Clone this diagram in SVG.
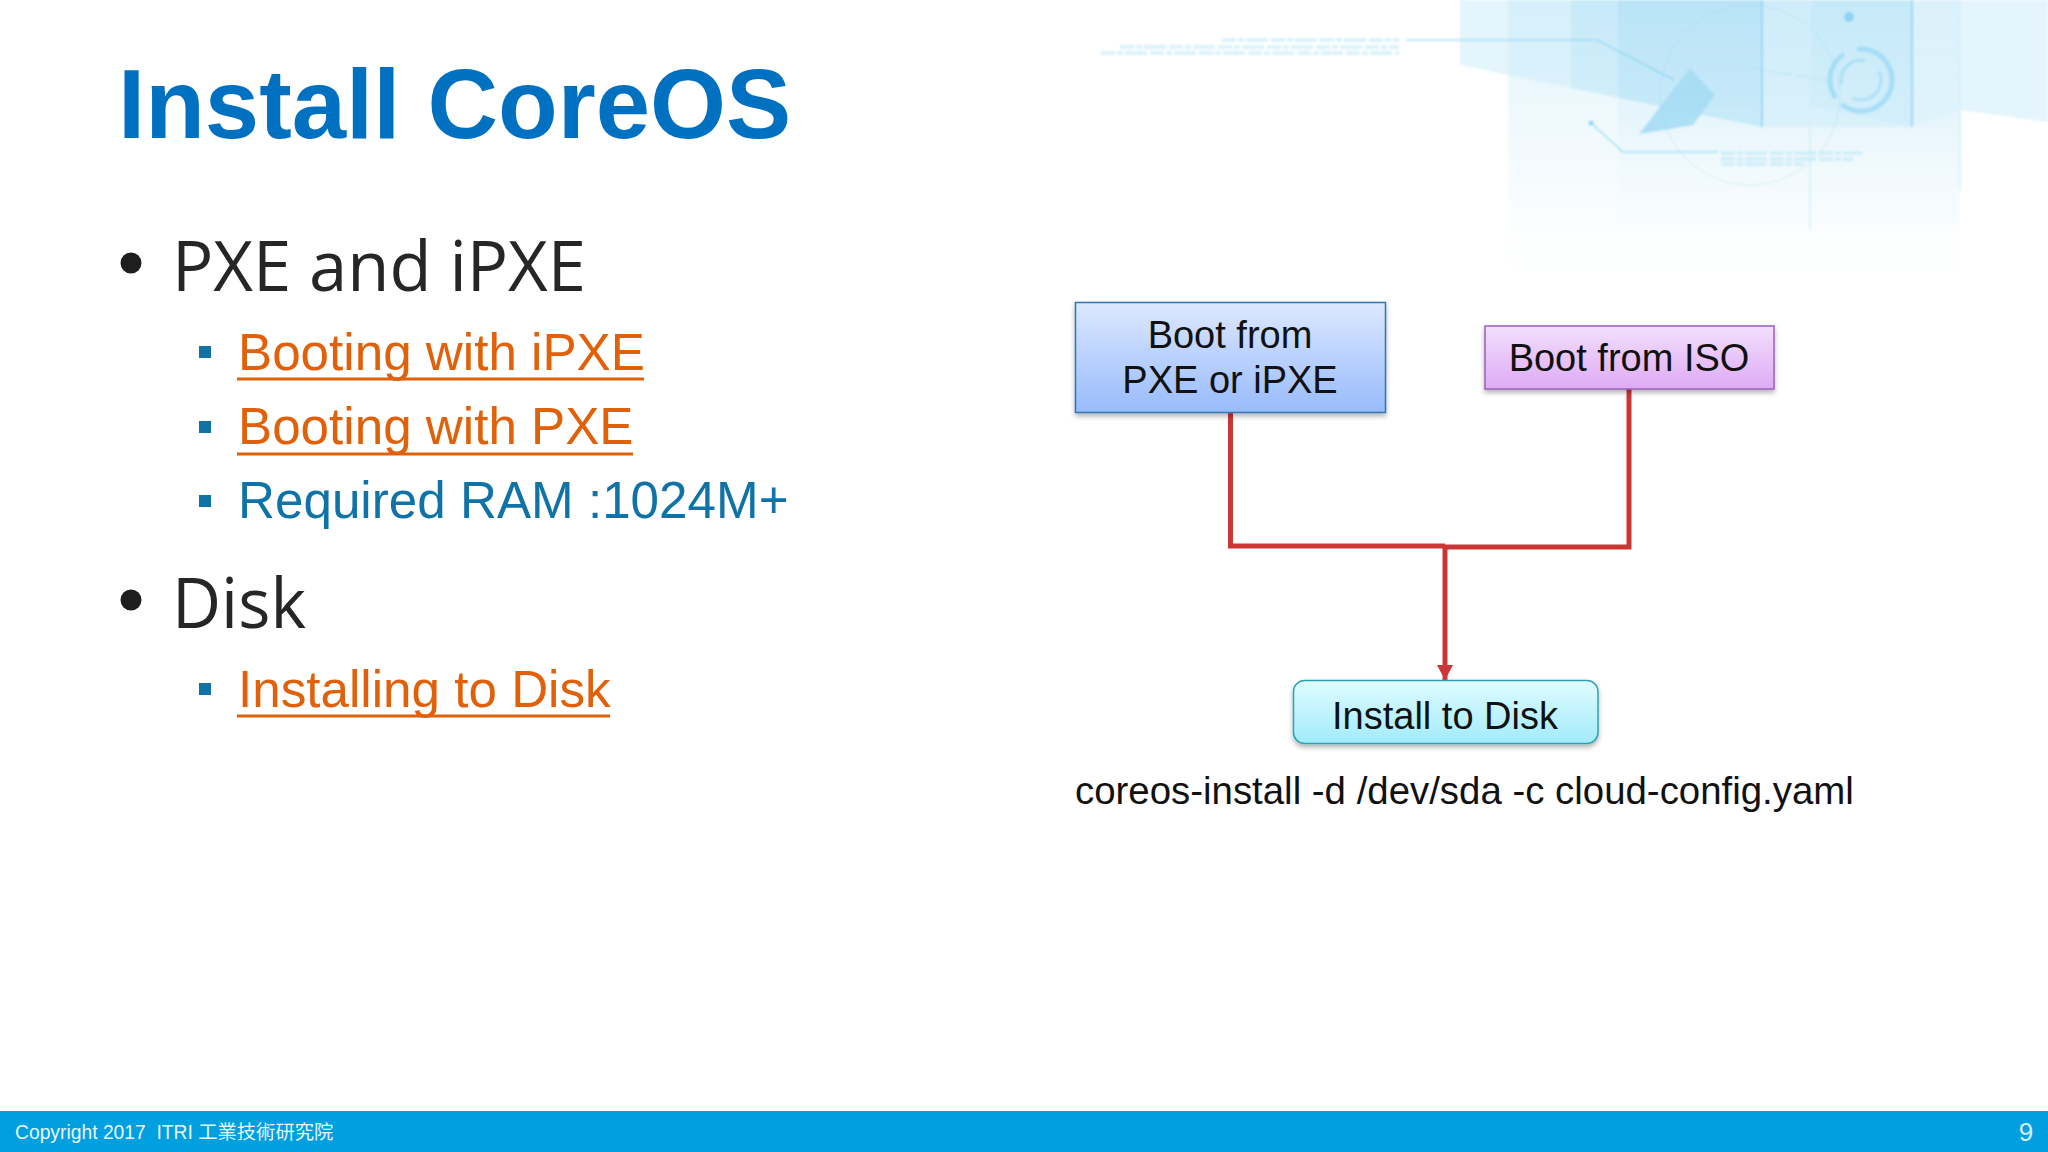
<svg xmlns="http://www.w3.org/2000/svg" width="2048" height="1152" viewBox="0 0 2048 1152">
<style>
.a{font-family:"Liberation Sans",Arial,sans-serif}
.h{font-family:"Open Sans","Noto Sans",sans-serif;font-size:70px;fill:#262626}
.s{font-family:"Liberation Sans",Arial,sans-serif;font-size:51.2px}
.o{fill:#E0610A}.b{fill:#0F73A8}
.n{font-family:"Liberation Sans",Arial,sans-serif;font-size:38px;fill:#111;text-anchor:middle}
.c{fill:none;stroke:#CB3636;stroke-width:5}
.f{fill:none;stroke:#8FD6F2}
.t{stroke:#AFE2F5;stroke-width:4;opacity:.45;stroke-dasharray:14 2 6 2 22 3}
</style>
<defs>
<linearGradient id="g1" x1="0" y1="0" x2="0" y2="1"><stop offset="0" stop-color="#DCE8FF"/><stop offset="1" stop-color="#98BBFB"/></linearGradient>
<linearGradient id="g2" x1="0" y1="0" x2="0" y2="1"><stop offset="0" stop-color="#F2DFFC"/><stop offset="1" stop-color="#DEAAF5"/></linearGradient>
<linearGradient id="g3" x1="0" y1="0" x2="0" y2="1"><stop offset="0" stop-color="#DFFCFF"/><stop offset="1" stop-color="#A2EBFB"/></linearGradient>
<linearGradient id="p" x1="0" y1="0" x2="0" y2="1"><stop offset="0" stop-color="#BFE6F8" stop-opacity=".5"/><stop offset=".45" stop-color="#D5EFFA" stop-opacity=".35"/><stop offset="1" stop-color="#E8F6FC" stop-opacity="0"/></linearGradient>
<linearGradient id="q" x1="0" y1="0" x2="0" y2="1"><stop offset="0" stop-color="#A8DDF5" stop-opacity=".6"/><stop offset="1" stop-color="#A8DDF5" stop-opacity=".35"/></linearGradient>
<filter id="sh" x="-5%" y="-10%" width="110%" height="130%"><feDropShadow dx="0" dy="3" stdDeviation="2.5" flood-color="#000" flood-opacity=".3"/></filter>
<filter id="bl"><feGaussianBlur stdDeviation=".8"/></filter>
<marker id="ah" markerUnits="userSpaceOnUse" markerWidth="15" markerHeight="16" refX="15" refY="8" orient="auto"><path d="M0 0L15 8L0 16Z" fill="#CB3636"/></marker>
</defs>
<rect width="2048" height="1152" fill="#fff"/>
<g id="background" filter="url(#bl)">
<rect x="1508" y="0" width="452" height="290" fill="url(#p)"/>
<rect x="1618" y="0" width="192" height="240" fill="url(#p)"/>
<rect x="1810" y="0" width="150" height="240" fill="url(#p)"/>
<polygon points="1460,0 1912,0 1912,127 1762,127 1460,65" fill="#CDEDFA" opacity=".55"/>
<polygon points="1912,0 2048,0 2048,122 1960,110 1912,127" fill="#DDF3FB" opacity=".8"/>
<polygon points="1571,0 1762,0 1762,127 1571,88" fill="url(#q)" opacity=".5"/>
<polygon points="1618,0 1762,0 1762,127 1618,98" fill="url(#q)" opacity=".55"/>
<polygon points="1810,0 1912,0 1912,127 1810,106" fill="url(#q)" opacity=".35"/>
<path d="M1762 0V127M1912 0V127" stroke="#9BD8F3" stroke-width="2" fill="none"/>
<path d="M1960 0V190M1810 0V230" stroke="#D5F0FA" stroke-width="1.5" fill="none"/>
<polygon points="1690,68 1715,95 1693,125 1639,134" fill="#A6DDF4" opacity=".9"/>
<circle cx="1849" cy="17" r="5" fill="#8FD3F0"/>
<circle cx="1750" cy="95" r="90" class="f" opacity=".35"/>
<circle cx="1861" cy="80" r="31" class="f" stroke-width="5" stroke-dasharray="70 8 50 14" opacity=".65"/>
<circle cx="1861" cy="80" r="20" class="f" stroke-width="3" stroke-dasharray="40 18" opacity=".55"/>
<path d="M1406 40H1597L1674 80M1591 123L1623 152H1718" class="f" stroke-width="1.5" opacity=".8"/>
<circle cx="1591" cy="123" r="2.5" fill="#8FD6F2"/>
<path d="M1747 68L1827 80" class="t" style="stroke-width:2"/>
<path d="M1222 40H1399M1120 47H1399M1101 53H1399M1721 153H1862M1721 159H1853M1721 164H1804" class="t"/>
</g>
<g id="title"><text class="a" x="118" y="138" font-size="97.7" font-weight="700" fill="#0070C0">Install CoreOS</text></g>
<g id="bullets">
<circle cx="131" cy="263" r="10.5" fill="#1E1E1E"/>
<text class="h" x="172" y="291" textLength="414" lengthAdjust="spacingAndGlyphs">PXE and iPXE</text>
<rect x="199" y="346" width="12" height="12" fill="#0F73A8"/>
<text class="s o" x="238" y="370">Booting with iPXE</text><rect x="237" y="377.5" width="407" height="3" fill="#E0610A"/>
<rect x="199" y="421" width="12" height="12" fill="#0F73A8"/>
<text class="s o" x="238" y="444">Booting with PXE</text><rect x="237" y="452.5" width="396" height="3" fill="#E0610A"/>
<rect x="199" y="495" width="12" height="12" fill="#0F73A8"/>
<text class="s b" x="238" y="518">Required RAM :1024M+</text>
<circle cx="131" cy="600" r="10.5" fill="#1E1E1E"/>
<text class="h" x="172" y="628" textLength="134" lengthAdjust="spacingAndGlyphs">Disk</text>
<rect x="199" y="683" width="12" height="12" fill="#0F73A8"/>
<text class="s o" x="238" y="707">Installing to Disk</text><rect x="237" y="714.5" width="373" height="3" fill="#E0610A"/>
</g>
<g id="connectors">
<path class="c" d="M1230.5 412V546H1445"/>
<path class="c" d="M1629 388V547H1445"/>
<path class="c" d="M1445 546V680" marker-end="url(#ah)"/>
</g>
<g id="node-pxe"><rect x="1075.5" y="302.5" width="310" height="110" fill="url(#g1)" stroke="#2E75B6" stroke-width="1.5" filter="url(#sh)"/>
<text class="n" x="1230" y="348">Boot from</text><text class="n" x="1230" y="393">PXE or iPXE</text></g>
<g id="node-iso"><rect x="1485" y="326" width="289" height="63" fill="url(#g2)" stroke="#9B5FB8" stroke-width="1.5" filter="url(#sh)"/>
<text class="n" x="1629" y="371">Boot from ISO</text></g>
<g id="node-disk"><rect x="1293.5" y="680.5" width="304.5" height="63" rx="11" fill="url(#g3)" stroke="#2FA3B0" stroke-width="1.5" filter="url(#sh)"/>
<text class="n" x="1445" y="728.5">Install to Disk</text></g>
<g id="command"><text class="a" x="1075" y="804" font-size="38.4" fill="#111">coreos-install -d /dev/sda -c cloud-config.yaml</text></g>
<g id="footer"><rect x="0" y="1111" width="2048" height="41" fill="#009FE0"/>
<text x="15" y="1139" font-size="19.3" fill="#E8F7FD" font-family="'Liberation Sans','Noto Sans CJK TC',sans-serif" xml:space="preserve">Copyright 2017  ITRI 工業技術研究院</text>
<text class="a" x="2026" y="1141" font-size="26" fill="#D5F0FB" text-anchor="middle">9</text></g>
</svg>
